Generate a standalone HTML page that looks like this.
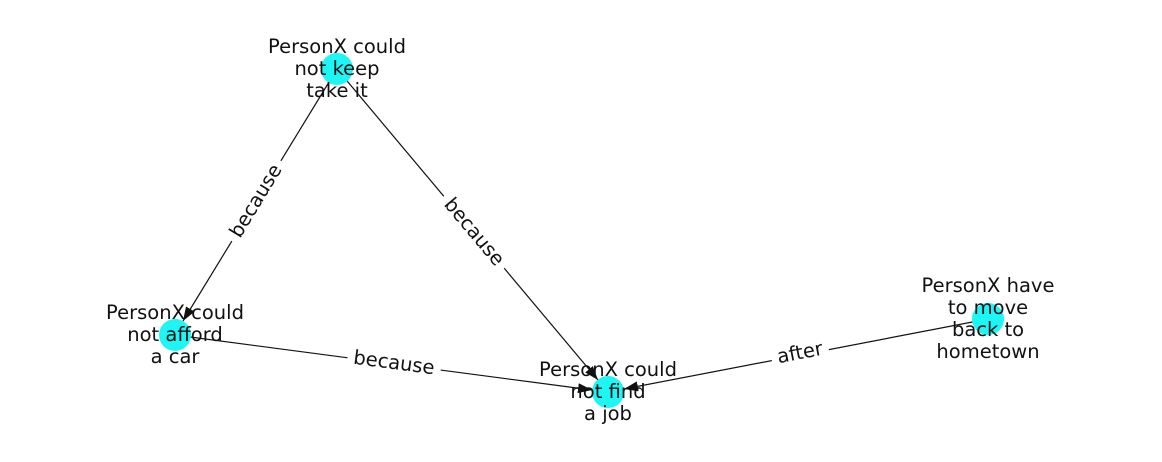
<!DOCTYPE html>
<html><head><meta charset="utf-8"><style>
html,body{margin:0;padding:0;background:#fff;}
#c{position:relative;width:1162px;height:462px;overflow:hidden;font-family:"DejaVu Sans","Liberation Sans",sans-serif;}
svg{position:absolute;left:0;top:0;}
.lbl{position:absolute;font-size:19.5px;color:#111;background:#fff;padding:2px 6px;line-height:20px;white-space:nowrap;transform:translate(-50%,-50%) rotate(var(--r));}
.nt{position:absolute;font-size:19.5px;color:#111;text-align:center;line-height:22px;transform:translate(-50%,-50%);white-space:nowrap;}
</style></head><body><div id="c">
<svg width="1162" height="462">
<defs><marker id="m" markerWidth="14" markerHeight="10" refX="14" refY="5" orient="auto" markerUnits="userSpaceOnUse"><path d="M0,0 L14,5 L0,10 z" fill="#111"/></marker></defs>
<g stroke="#111" stroke-width="1.2">
<line x1="337" y1="69" x2="183" y2="321" marker-end="url(#m)"/>
<line x1="337" y1="69" x2="598" y2="380" marker-end="url(#m)"/>
<line x1="175" y1="335" x2="592" y2="390" marker-end="url(#m)"/>
<line x1="988" y1="319" x2="624" y2="389" marker-end="url(#m)"/>
</g>
<g fill="#1ef5f5">
<circle cx="337" cy="69" r="16"/>
<circle cx="175" cy="335" r="16"/>
<circle cx="608" cy="392" r="16"/>
<circle cx="988" cy="319" r="16"/>
</g>
</svg>
<div class="lbl" style="left:256px;top:201px;--r:-58.7deg">because</div>
<div class="lbl" style="left:474px;top:232px;--r:50deg">because</div>
<div class="lbl" style="left:394px;top:363px;--r:7.5deg">because</div>
<div class="lbl" style="left:800px;top:353px;--r:-10.9deg">after</div>
<div class="nt" style="left:337px;top:69px">PersonX could<br>not keep<br>take it</div>
<div class="nt" style="left:175px;top:335px">PersonX could<br>not afford<br>a car</div>
<div class="nt" style="left:608px;top:392px">PersonX could<br>not find<br>a job</div>
<div class="nt" style="left:988px;top:319px">PersonX have<br>to move<br>back to<br>hometown</div>
</div></body></html>
